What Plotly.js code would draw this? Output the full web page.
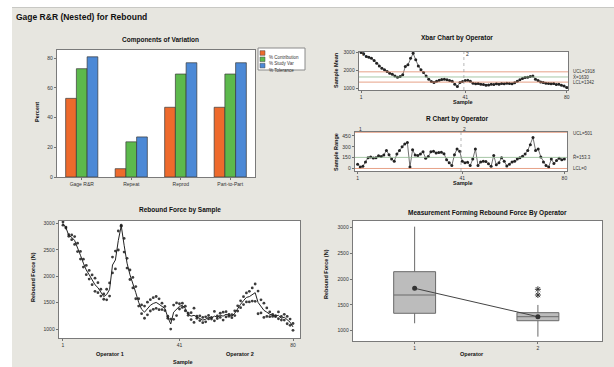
<!DOCTYPE html>
<html><head><meta charset="utf-8">
<script src="https://cdn.plot.ly/plotly-3.0.1.min.js"></script>
<style>html,body{margin:0;padding:0;background:#fff}#chart{width:614px;height:367px}</style>
</head><body><div id="chart"></div>
<script>
// ---------- DATA ----------
const components = ['Gage R&R', 'Repeat', 'Reprod', 'Part-to-Part'];
const pctContribution = [53, 5.6, 47, 47];
const pctStudyVar = [73, 23.7, 69.4, 69.4];
const pctTolerance = [81, 27, 77, 77];
const seriesNames = ['% Contribution', '% Study Var', '% Tolerance'];

// sample means (Xbar) and ranges (R), 2 trials per sample, 40 samples per operator
const sampleMeans = [3000,2925,2775,2740,2680,2550,2400,2250,2120,2030,
  1935,1840,1785,1690,1615,1655,1750,2215,2310,2680,
  2960,2590,2250,2030,1880,1690,1505,1375,1320,1390,
  1450,1485,1505,1470,1430,1390,1225,1095,1320,1375,
  1430,1450,1390,1280,1245,1260,1225,1205,1170,1185,
  1225,1205,1245,1225,1260,1245,1280,1260,1245,1300,
  1390,1470,1540,1600,1615,1655,1690,1505,1430,1355,
  1320,1280,1260,1245,1260,1205,1225,1170,1130,1040];
const sampleRanges = [60,20,30,90,150,160,145,150,175,165,
  185,250,190,130,100,200,250,300,340,360,
  20,260,185,180,200,230,140,165,230,240,
  215,220,225,205,120,80,40,190,270,240,
  100,80,85,40,130,270,40,90,100,95,
  65,30,180,50,80,150,100,35,60,90,
  100,130,150,170,200,250,330,430,250,270,
  160,90,40,20,130,70,110,140,120,130];
const samplesPerOperator = 40;
const operators = ['1', '2'];
const sampleTicks = [1, 41, 80];

// box plot summary by operator
const boxQ1 = [1338, 1194];
const boxMedian = [1693, 1272];
const boxQ3 = [2146, 1350];
const boxLow = [1144, 884];
const boxHigh = [3020, 1500];
const boxMeans = [1823, 1272];
const outlierOperator = ['2', '2'];
const outlierValues = [1804, 1693];

// ---------- HELPERS ----------
const W = 614, H = 367;
const px = v => v / W, py = v => 1 - v / H;
const FONT = 'Liberation Sans, Arial, sans-serif';
const colors = ['#ee6a2c', '#5cb94c', '#4c89d6'];
const INK = '#111111';

const sampleIdx = sampleMeans.map((_, i) => i + 1);
const trialHigh = sampleMeans.map((m, i) => m + sampleRanges[i] / 2);
const trialLow = sampleMeans.map((m, i) => m - sampleRanges[i] / 2);
const avg = a => a.reduce((s, v) => s + v, 0) / a.length;
const grandMean = avg(sampleMeans);
const rBar = avg(sampleRanges);
const A2 = 1.880, D4 = 3.267;
const xUCL = grandMean + A2 * rBar, xLCL = grandMean - A2 * rBar;
const rUCL = D4 * rBar;

function ax(extra) {
  return Object.assign({
    showline: true, mirror: true, linecolor: '#7a7a7a', linewidth: 1.3,
    ticks: 'outside', ticklen: 2, tickcolor: '#555', tickwidth: 0.8,
    tickfont: {size: 5, color: '#333', family: FONT},
    showgrid: false, zeroline: false, fixedrange: true
  }, extra);
}

// ---------- TRACES ----------
const traces = [];
[pctContribution, pctStudyVar, pctTolerance].forEach((vals, k) => {
  traces.push({type: 'bar', x: components, y: vals, name: seriesNames[k],
    xaxis: 'x', yaxis: 'y', marker: {color: colors[k], line: {color: '#3a3a3a', width: 0.7}}});
});
// Xbar
traces.push({type: 'scatter', mode: 'lines+markers', x: sampleIdx, y: sampleMeans,
  xaxis: 'x2', yaxis: 'y2', line: {color: '#333', width: 0.7},
  marker: {color: '#222', size: 3}});
// R
traces.push({type: 'scatter', mode: 'lines+markers', x: sampleIdx, y: sampleRanges,
  xaxis: 'x3', yaxis: 'y3', line: {color: '#333', width: 0.7},
  marker: {color: '#222', size: 3}});
// by sample
traces.push({type: 'scatter', mode: 'markers', x: sampleIdx.concat(sampleIdx), y: trialHigh.concat(trialLow),
  xaxis: 'x4', yaxis: 'y4', marker: {color: '#1a1a1a', size: 2.8, opacity: 0.85}});
traces.push({type: 'scatter', mode: 'lines', x: sampleIdx, y: sampleMeans,
  xaxis: 'x4', yaxis: 'y4', line: {color: '#222', width: 1}});
// box by operator
traces.push({type: 'box', x: operators, q1: boxQ1, median: boxMedian, q3: boxQ3,
  lowerfence: boxLow, upperfence: boxHigh, xaxis: 'x5', yaxis: 'y5',
  fillcolor: '#bcbcbc', line: {color: '#6a6a6a', width: 1}, whiskerwidth: 0,
  width: 0.34, boxpoints: false});
traces.push({type: 'scatter', mode: 'lines+markers', x: operators, y: boxMeans,
  xaxis: 'x5', yaxis: 'y5', line: {color: '#444', width: 1},
  marker: {symbol: 'circle-cross', size: 5, color: '#333'}});
traces.push({type: 'scatter', mode: 'markers', x: outlierOperator, y: outlierValues,
  xaxis: 'x5', yaxis: 'y5', marker: {symbol: 'asterisk-open', size: 5, color: '#333', line: {color: '#333', width: 1}}});

// ---------- ANNOTATIONS ----------
const ann = [];
function txt(t, x, y, o) {
  ann.push(Object.assign({text: '<b>' + t + '</b>', x: px(x), y: py(y), xref: 'paper', yref: 'paper',
    showarrow: false, xanchor: 'center', yanchor: 'middle',
    font: {size: 6.5, family: FONT, color: INK}}, o || {}));
}
txt('Gage R&amp;R (Nested) for Rebound', 14, 17, {xanchor: 'left', font: {size: 8.5, family: FONT, color: INK}});
txt('Components of Variation', 160, 40);
txt('Xbar Chart by Operator', 457, 38);
txt('R Chart by Operator', 457, 119);
txt('Rebound Force by Sample', 180, 210);
txt('Measurement Forming Rebound Force By Operator', 487, 213);
const axf = {size: 5.5, family: FONT, color: INK};
txt('Percent', 37, 112, {textangle: -90, font: axf});
txt('Sample Mean', 336, 70, {textangle: -90, font: axf});
txt('Sample', 463, 102, {font: axf});
txt('Sample Range', 336, 152, {textangle: -90, font: axf});
txt('Sample', 463, 183, {font: axf});
txt('Rebound Force (N)', 33, 277, {textangle: -90, font: axf});
txt('Operator 1', 110, 354, {font: axf});
txt('Operator 2', 240, 354, {font: axf});
txt('Sample', 183, 362, {font: axf});
txt('Rebound Force (N)', 326, 274, {textangle: -90, font: axf});
txt('Operator', 472, 354, {font: axf});

// operator labels above Xbar and R charts
const small = {size: 5, family: FONT, color: '#333'};
[['x2', 49], ['x3', 129]].forEach(([xr, yy]) => {
  operators.forEach((op, k) => {
    ann.push({text: op, x: k * samplesPerOperator + 2, y: py(yy), xref: xr, yref: 'paper',
      showarrow: false, font: small});
  });
});
// control limit labels
const limF = {size: 4.5, family: FONT, color: '#333'};
function lim(t, y, yref) {
  ann.push({text: t, x: px(571), xref: 'paper', y: y, yref: yref, xanchor: 'left', showarrow: false, font: limF});
}
lim('UCL=' + xUCL.toFixed(0), xUCL, 'y2');
lim('X̄=' + grandMean.toFixed(0), grandMean, 'y2');
lim('LCL=' + xLCL.toFixed(0), xLCL, 'y2');
lim('UCL=' + rUCL.toFixed(0), Math.min(rUCL, 480), 'y3');
lim('R̄=' + rBar.toFixed(1), rBar, 'y3');
lim('LCL=0', 0, 'y3');

// legend (manual, compact)
const shapes = [];
shapes.push({type: 'rect', xref: 'paper', yref: 'paper', x0: px(258), x1: px(305), y0: py(70), y1: py(48),
  fillcolor: '#fff', line: {color: '#8a8a8a', width: 1}});
seriesNames.forEach((n, k) => {
  const yc = 53 + k * 6.3;
  shapes.push({type: 'rect', xref: 'paper', yref: 'paper', x0: px(260), x1: px(265), y0: py(yc + 2.3), y1: py(yc - 2.3),
    fillcolor: colors[k], line: {color: '#444', width: 0.5}});
  ann.push({text: n, x: px(267), y: py(yc), xref: 'paper', yref: 'paper', xanchor: 'left', showarrow: false,
    font: {size: 4.5, family: FONT, color: '#333'}});
});
// white strips around the gray panel
shapes.push({type: 'rect', xref: 'paper', yref: 'paper', x0: 0, x1: 1, y0: py(7), y1: 1, fillcolor: '#fff', line: {width: 0}});
shapes.push({type: 'rect', xref: 'paper', yref: 'paper', x0: 0, x1: px(12), y0: 0, y1: 1, fillcolor: '#fff', line: {width: 0}});
shapes.push({type: 'line', xref: 'paper', yref: 'paper', x0: px(12), x1: 1, y0: py(7.5), y1: py(7.5), line: {color: '#c8c8c4', width: 1}});
// control lines
function hline(xr, yr, y, c, d) {
  shapes.push({type: 'line', xref: xr + ' domain', x0: 0, x1: 1, yref: yr, y0: y, y1: y, line: {color: c, width: 0.8, dash: d || 'solid'}});
}
hline('x2', 'y2', xUCL, '#e08a6a'); hline('x2', 'y2', grandMean, '#8fb88f'); hline('x2', 'y2', xLCL, '#e08a6a');
hline('x3', 'y3', rUCL, '#e08a6a'); hline('x3', 'y3', rBar, '#8fb88f'); hline('x3', 'y3', 0, '#e08a6a');
['x2', 'x3'].forEach((xr, k) => {
  shapes.push({type: 'line', xref: xr, x0: samplesPerOperator + 0.5, x1: samplesPerOperator + 0.5,
    yref: (k ? 'y3' : 'y2') + ' domain', y0: 0, y1: 1, line: {color: '#9a9a9a', width: 0.7, dash: 'dot'}});
});

const layout = {
  width: W, height: H, margin: {l: 0, r: 0, t: 0, b: 0},
  paper_bgcolor: '#e7e6e0', plot_bgcolor: '#ffffff', showlegend: false,
  font: {family: FONT, size: 5, color: '#333'},
  barmode: 'group', bargap: 0.35, bargroupgap: 0,
  xaxis: ax({domain: [px(57), px(255)], anchor: 'y', type: 'category', range: [-0.5, 3.5], ticklen: 2}),
  yaxis: ax({domain: [py(177), py(50)], anchor: 'x', range: [0, 85.6], tickvals: [0, 20, 40, 60, 80]}),
  xaxis2: ax({domain: [px(359), px(568)], anchor: 'y2', range: [0.2, 80.5], tickvals: sampleTicks}),
  yaxis2: ax({domain: [py(90), py(52)], anchor: 'x2', range: [900, 3030], tickvals: [1000, 2000, 3000]}),
  xaxis3: ax({domain: [px(355), px(567)], anchor: 'y3', range: [0, 81], tickvals: sampleTicks}),
  yaxis3: ax({domain: [py(171), py(132)], anchor: 'x3', range: [-35, 505], tickvals: [0, 150, 300, 450]}),
  xaxis4: ax({domain: [px(59), px(300)], anchor: 'y4', range: [-0.37, 82.4], tickvals: sampleTicks}),
  yaxis4: ax({domain: [py(338), py(221)], anchor: 'x4', range: [830, 3050], tickvals: [1000, 1500, 2000, 2500, 3000]}),
  xaxis5: ax({domain: [px(353), px(602)], anchor: 'y5', type: 'category', range: [-0.5, 1.52]}),
  yaxis5: ax({domain: [py(341), py(221)], anchor: 'x5', range: [800, 3130], tickvals: [1000, 1500, 2000, 2500, 3000]}),
  annotations: ann, shapes: shapes
};
Plotly.newPlot('chart', traces, layout, {staticPlot: true, displayModeBar: false});
</script></body></html>
